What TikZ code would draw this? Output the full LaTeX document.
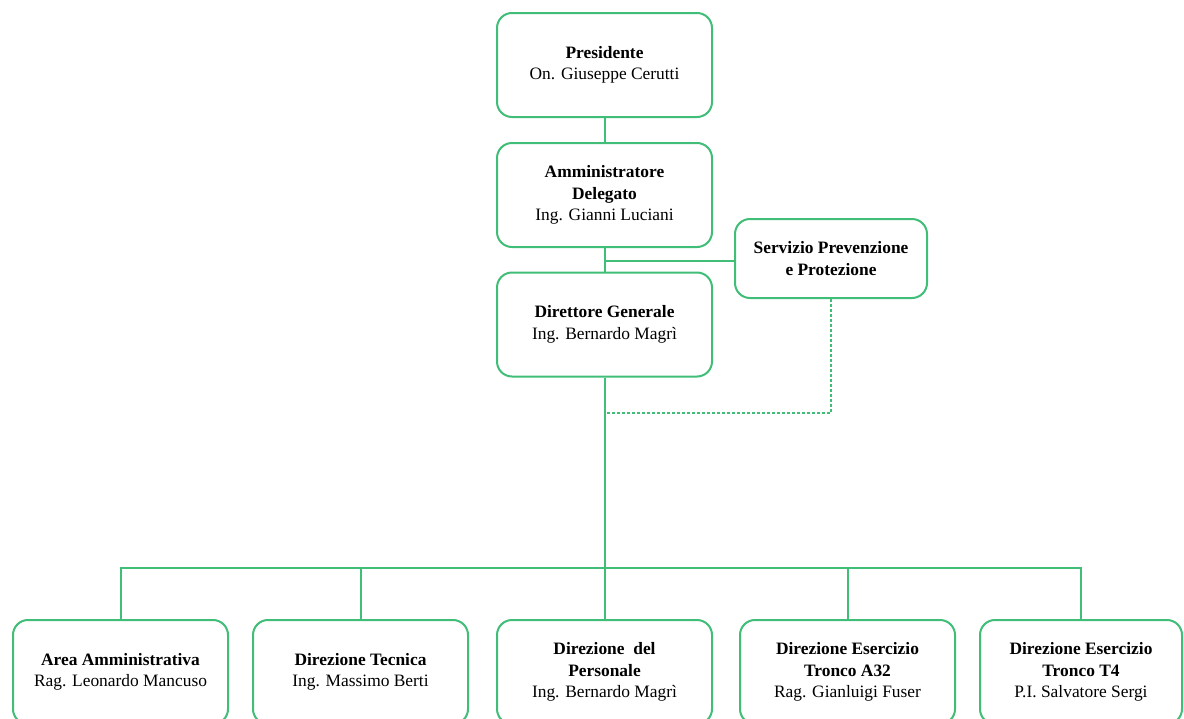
\documentclass[tikz,border=0pt]{standalone}
\usepackage{fontspec}
\setmainfont{Liberation Serif}
\definecolor{orgc}{RGB}{64,190,120}
\begin{document}
\begin{tikzpicture}[x=1pt,y=-1pt,
  box/.style={draw=orgc,line width=2pt,rounded corners=15pt,fill=white,
    minimum width=215pt,minimum height=104pt,align=center,inner sep=2pt,
    font=\fontsize{17.4}{21.5}\selectfont},
  link/.style={draw=orgc,line width=2pt},
  dlink/.style={draw=orgc,line width=1.6pt,dash pattern=on 3pt off 2pt}]
\useasboundingbox (0,0) rectangle (1184,718);
\clip (0,0) rectangle (1184,718);
\fill[white] (0,0) rectangle (1184,718);
% top column
\node[box] (pres) at (604.5,65) {\textbf{Presidente}\\On. Giuseppe Cerutti};
\node[box] (amm) at (604.5,195) {\textbf{Amministratore}\\\textbf{Delegato}\\Ing. Gianni Luciani};
\node[box] (dg) at (604.5,324.5) {\textbf{Direttore Generale}\\Ing. Bernardo Magrì};
\node[box,minimum width=192pt,minimum height=79pt] (spp) at (831,258.5) {\textbf{Servizio Prevenzione}\\\textbf{e Protezione}};
% bottom row
\node[box] (b1) at (120.5,672) {\textbf{Area Amministrativa}\\Rag. Leonardo Mancuso};
\node[box] (b2) at (360.5,672) {\textbf{Direzione Tecnica}\\Ing. Massimo Berti};
\node[box] (b3) at (604.5,672) {\textbf{Direzione\ \ del}\\\textbf{Personale}\\Ing. Bernardo Magrì};
\node[box] (b4) at (847.5,672) {\textbf{Direzione Esercizio}\\\textbf{Tronco A32}\\Rag. Gianluigi Fuser};
\node[box,minimum width=202pt] (b5) at (1081,672) {\textbf{Direzione Esercizio}\\\textbf{Tronco T4}\\P.I. Salvatore Sergi};
% coordinates
\coordinate (j1) at (604.5,261);
\coordinate (bus) at (604.5,568);
\coordinate (dj) at (604.5,413);
% connectors
\draw[link] (pres.south) -- (amm.north);
\draw[link] (amm.south) -- (dg.north);
\draw[link] (j1) -- (j1 -| spp.west);
\draw[link] (dg.south) -- (bus);
\draw[link] (b1.north) -- (b1.north |- bus) -- (b5.north |- bus) -- (b5.north);
\draw[link] (b2.north |- bus) -- (b2.north);
\draw[link] (bus) -- (b3.north);
\draw[link] (b4.north |- bus) -- (b4.north);
\draw[dlink] (spp.south) -- (spp.south |- dj) -- (dj);
\end{tikzpicture}
\end{document}
